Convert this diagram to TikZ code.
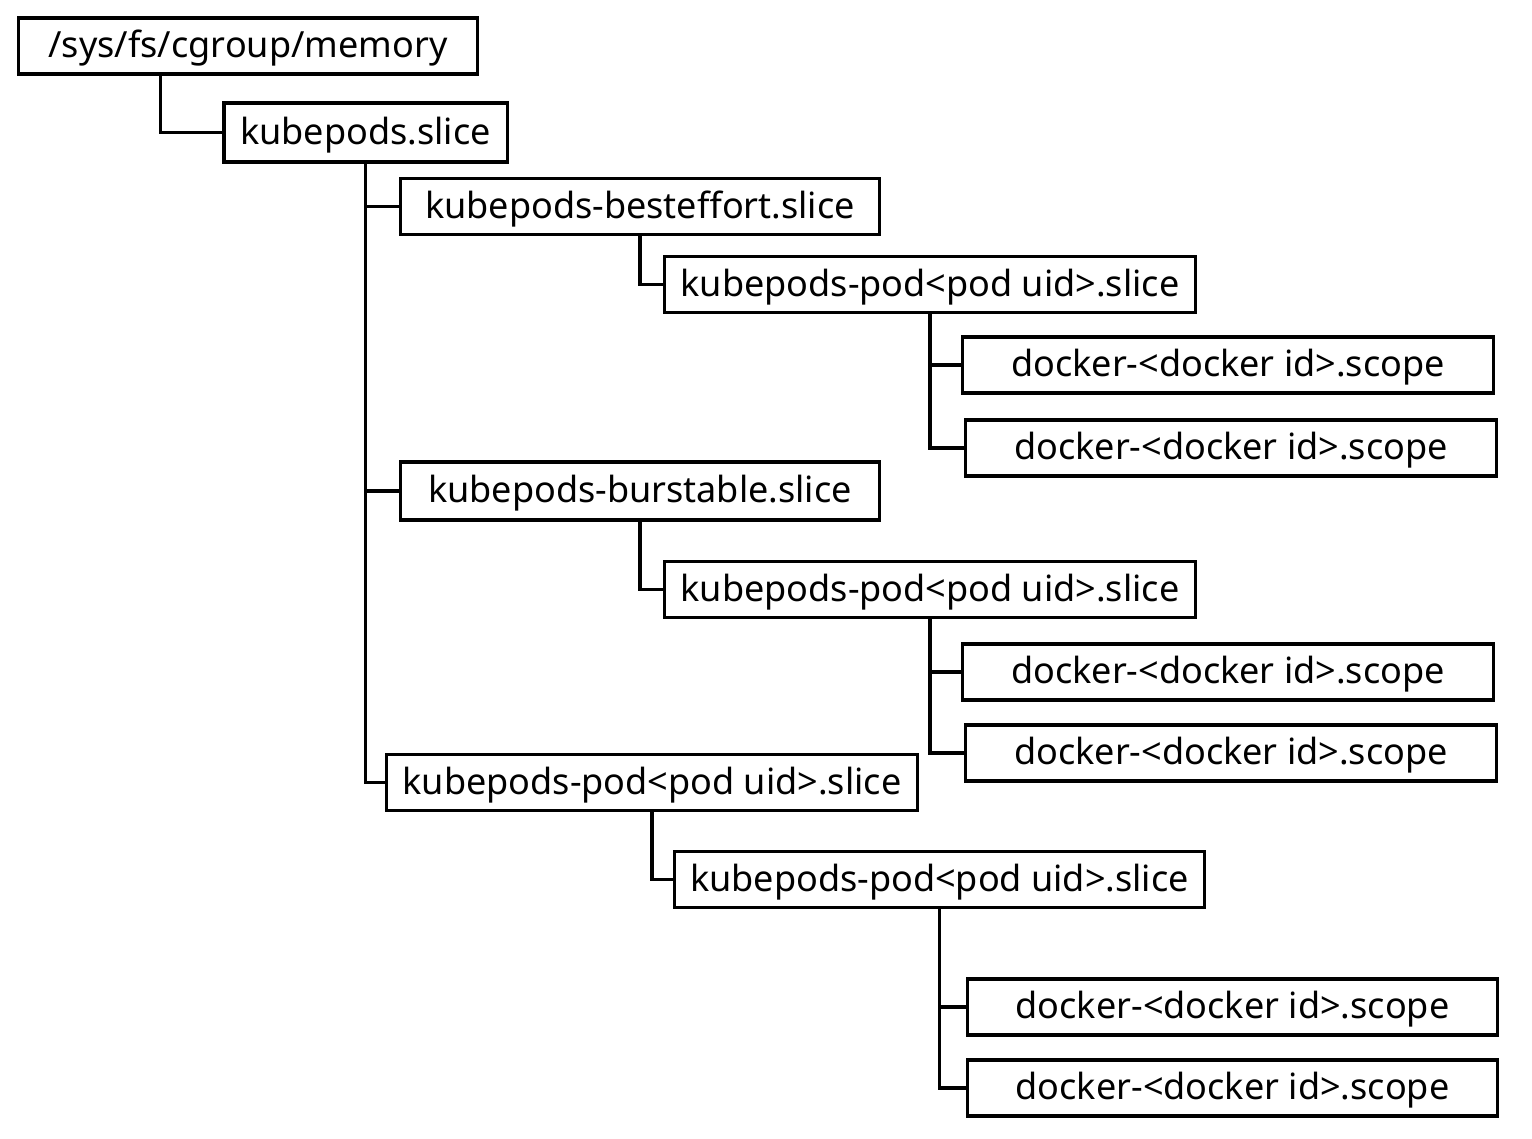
\documentclass[tikz,border=0pt]{standalone}
\usepackage{fontspec}
\setmainfont{Noto Sans}
\usepackage{tikz}
\usetikzlibrary{calc}
\tikzset{box/.style={draw=black, line width=0.9pt, inner sep=0pt, minimum height=0.56cm,
text height=1.6ex, text depth=.35ex, text centered, font=\fontsize{10.25pt}{12pt}\selectfont}}
\tikzset{wide/.style={box, minimum width=5.30cm}}
\tikzset{link/.style={draw=black, line width=0.9pt}}

\begin{document}
\begin{tikzpicture}[x=0.01cm, y=-0.01cm]
	\useasboundingbox (0,0) rectangle (1532,1138);
	% levels
	\node [box, minimum width=4.58cm] (root) at (248, 46) {/sys/fs/cgroup/memory};
	\node [box, minimum width=2.83cm, minimum height=0.59cm] (kp) at (365.5, 132.5) {kubepods.slice};
	\node [box, minimum width=4.78cm] (be) at (640, 206.5) {kubepods-besteffort.slice};
	\node [wide] (pod1) at (930, 284.5) {kubepods-pod<pod uid>.slice};
	\node [wide] (d1) at (1228, 365) {docker-<docker id>.scope};
	\node [wide] (d2) at (1231, 448) {docker-<docker id>.scope};
	\node [box, minimum width=4.78cm, minimum height=0.58cm] (bu) at (640, 491) {kubepods-burstable.slice};
	\node [wide] (pod2) at (930, 589.5) {kubepods-pod<pod uid>.slice};
	\node [wide] (d3) at (1228, 672) {docker-<docker id>.scope};
	\node [wide] (d4) at (1231, 753) {docker-<docker id>.scope};
	\node [wide] (pod3) at (652, 782.5) {kubepods-pod<pod uid>.slice};
	\node [wide, minimum width=5.29cm] (pod4) at (939.5, 879.5) {kubepods-pod<pod uid>.slice};
	\node [wide, minimum width=5.29cm] (d5) at (1232.5, 1007) {docker-<docker id>.scope};
	\node [wide, minimum width=5.29cm] (d6) at (1232.5, 1088) {docker-<docker id>.scope};
	% links
	\draw [link] ($(root.south west)+(143,0)$) |- (kp.west);
	\draw [link] (kp.south) |- (be.west);
	\draw [link] (kp.south) |- (bu.west);
	\draw [link] (kp.south) |- (pod3.west);
	\draw [link] (be.south) |- (pod1.west);
	\draw [link] (pod1.south) |- (d1.west);
	\draw [link] (pod1.south) |- (d2.west);
	\draw [link] (bu.south) |- (pod2.west);
	\draw [link] (pod2.south) |- (d3.west);
	\draw [link] (pod2.south) |- (d4.west);
	\draw [link] (pod3.south) |- (pod4.west);
	\draw [link] (pod4.south) |- (d5.west);
	\draw [link] (pod4.south) |- (d6.west);
\end{tikzpicture}
\end{document}
